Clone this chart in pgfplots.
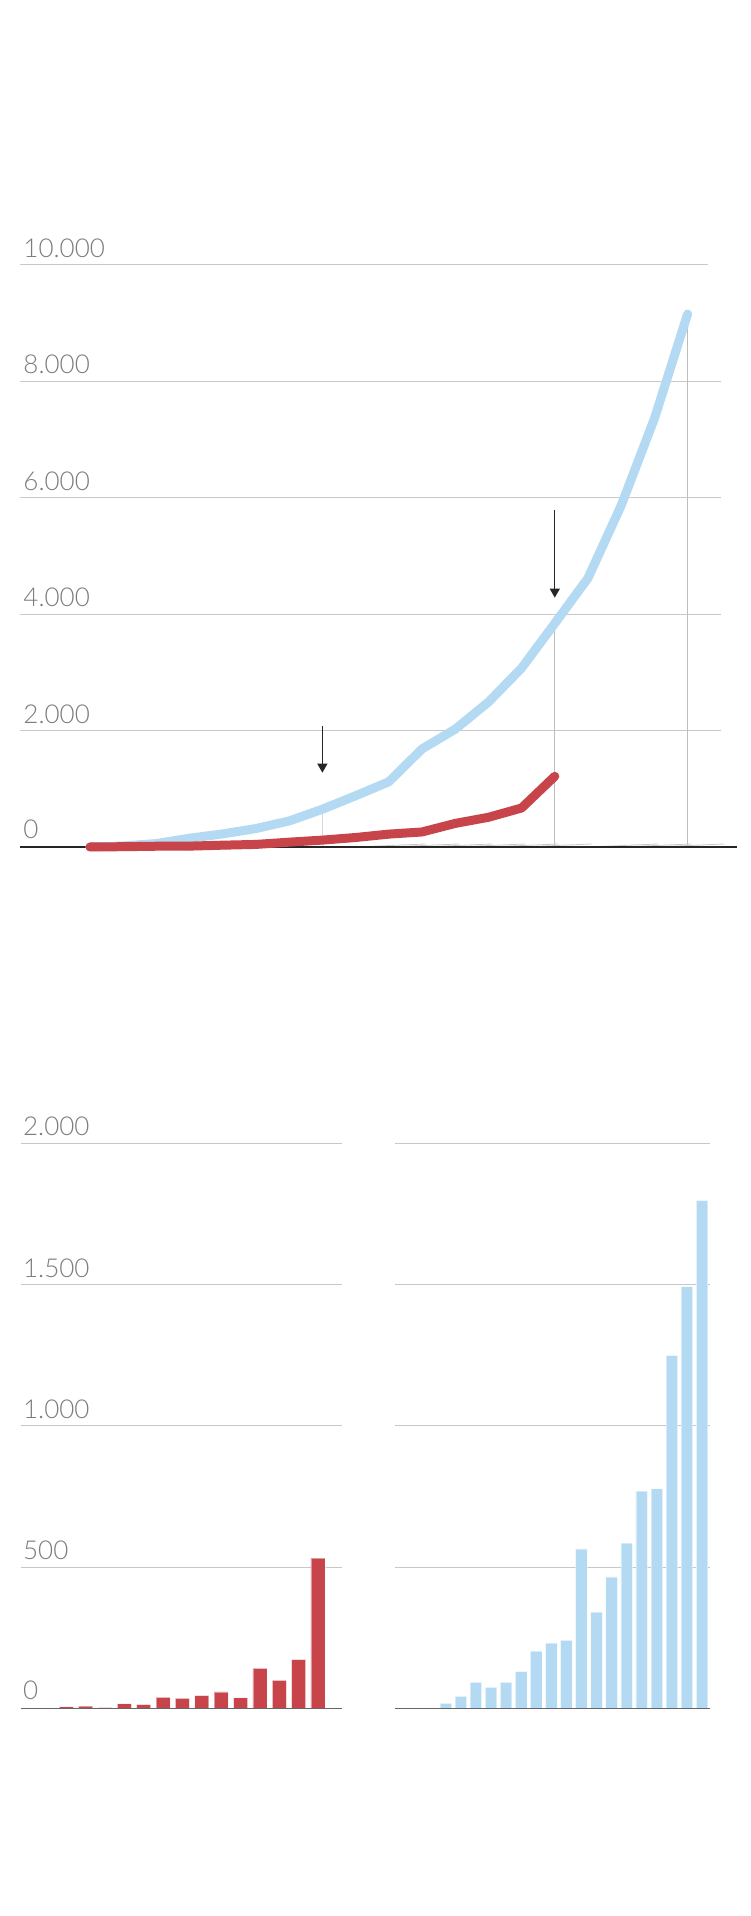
\documentclass[border=0pt]{standalone}
\usepackage{fontspec}
\IfFontExistsTF{Lato Light}{\setmainfont{Lato Light}}{\setmainfont{Lato}}
\usepackage{pgfplots}
\pgfplotsset{compat=1.18}
\usetikzlibrary{arrows.meta}
\definecolor{bl}{HTML}{B3D9F3}
\definecolor{rd}{HTML}{C8444B}
\definecolor{lab}{HTML}{7C7C7C}
\definecolor{grd}{HTML}{C8C8C8}
\definecolor{drop}{HTML}{BDBDBD}
\tikzset{lbl/.style={anchor=base west, inner sep=0pt, text=lab, font=\fontsize{26}{26}\selectfont}}
\begin{document}
\begin{tikzpicture}[x=1pt,y=1pt]
\fill[white] (0,0) rectangle (750,1916);

% ---------- top chart: cumulative lines ----------
\begin{axis}[at={(20pt,1069pt)}, anchor=south west, scale only axis,
  width=717pt, height=582pt, xmin=-2.108, xmax=19.488, ymin=0, ymax=10000,
  hide axis, clip=false]
  \draw[grd, line width=1pt] (axis cs:-2.108,10000) -- (axis cs:18.61,10000);
  \draw[grd, line width=1pt] (axis cs:-2.108,8000) -- (axis cs:19.0,8000);
  \draw[grd, line width=1pt] (axis cs:-2.108,6000) -- (axis cs:19.0,6000);
  \draw[grd, line width=1pt] (axis cs:-2.108,4000) -- (axis cs:19.0,4000);
  \draw[grd, line width=1pt] (axis cs:-2.108,2000) -- (axis cs:19.0,2000);
  \node[lbl] at ([yshift=7.5pt]axis cs:-2.009,10000) {10.000};
  \node[lbl] at ([yshift=7.5pt]axis cs:-2.009,8000) {8.000};
  \node[lbl] at ([yshift=7.5pt]axis cs:-2.009,6000) {6.000};
  \node[lbl] at ([yshift=7.5pt]axis cs:-2.009,4000) {4.000};
  \node[lbl] at ([yshift=7.5pt]axis cs:-2.009,2000) {2.000};
  \node[lbl] at ([yshift=8.5pt]axis cs:-2.009,0) {0};
  % drop lines
  \draw[grd!70, line width=1pt] (axis cs:7,0) -- (axis cs:7,649);
  \draw[drop, line width=1pt] (axis cs:14,0) -- (axis cs:14,3843);
  \draw[drop, line width=1pt] (axis cs:18,0) -- (axis cs:18,9157);
  % small ticks
  \draw[grd, line width=0.8pt] (axis cs:1,0) -- ++(0,-3pt);
  \draw[grd, line width=0.8pt] (axis cs:8,0) -- ++(0,3pt);
  \draw[grd, line width=0.8pt] (axis cs:9,0) -- ++(0,3pt);
  \draw[grd, line width=0.8pt] (axis cs:10,0) -- ++(0,3pt);
  \draw[grd, line width=0.8pt] (axis cs:11,0) -- ++(0,3pt);
  \draw[grd, line width=0.8pt] (axis cs:12,0) -- ++(0,3pt);
  \draw[grd, line width=0.8pt] (axis cs:13,0) -- ++(0,3pt);
  \draw[grd, line width=0.8pt] (axis cs:15,0) -- ++(0,3pt);
  \draw[grd, line width=0.8pt] (axis cs:16,0) -- ++(0,3pt);
  \draw[grd, line width=0.8pt] (axis cs:17,0) -- ++(0,3pt);
  % baseline
  \draw[black!85, line width=1.3pt] (axis cs:-2.108,0) -- (axis cs:19.488,0);
  % blue cumulative
  \addplot[bl, line width=9pt, line cap=round, line join=round] coordinates {
    (0,0) (1,17) (2,59) (3,151) (4,225) (5,317) (6,447) (7,649) (8,880)
    (9,1120) (10,1684) (11,2024) (12,2489) (13,3074) (14,3843) (15,4620)
    (16,5868) (17,7360) (18,9157)};
  % red cumulative
  \addplot[rd, line width=9pt, line cap=round, line join=round] coordinates {
    (0,0) (1,5) (2,13) (3,15) (4,31) (5,44) (6,83) (7,118) (8,163)
    (9,221) (10,258) (11,405) (12,510) (13,670) (14,1215)};
  % arrows
  \draw[black!85, line width=1.2pt, -{Triangle[width=10pt,length=9pt]}] (axis cs:7,2079) -- (axis cs:7,1277);
  \draw[black!85, line width=1.2pt, -{Triangle[width=10pt,length=9pt]}] (axis cs:14,5790) -- (axis cs:14,4284);
\end{axis}

% ---------- bottom left: red daily bars ----------
\begin{axis}[at={(20.7pt,207.7pt)}, anchor=south west, scale only axis,
  width=321pt, height=565pt, xmin=-1.355, xmax=15.225, ymin=0, ymax=2000,
  hide axis, clip=false]
  \draw[grd, line width=1pt] (axis cs:-1.355,2000) -- (axis cs:15.225,2000);
  \draw[grd, line width=1pt] (axis cs:-1.355,1500) -- (axis cs:15.225,1500);
  \draw[grd, line width=1pt] (axis cs:-1.355,1000) -- (axis cs:15.225,1000);
  \draw[grd, line width=1pt] (axis cs:-1.355,500) -- (axis cs:15.225,500);
  \node[lbl] at ([yshift=7.5pt]axis cs:-1.24,2000) {2.000};
  \node[lbl] at ([yshift=7.5pt]axis cs:-1.24,1500) {1.500};
  \node[lbl] at ([yshift=7.5pt]axis cs:-1.24,1000) {1.000};
  \node[lbl] at ([yshift=7.5pt]axis cs:-1.24,500) {500};
  \node[lbl] at ([yshift=8.5pt]axis cs:-1.24,0) {0};
  \addplot[ybar, bar width=14pt, fill=rd, draw=white, draw opacity=0.45, line width=0.8pt] coordinates {
    (1,5) (2,8) (3,2) (4,16) (5,13) (6,39) (7,35) (8,45) (9,58) (10,37)
    (11,141) (12,99) (13,172) (14,532)};
  \draw[black!60, line width=1.5pt] (axis cs:-1.355,0) -- (axis cs:15.225,0);
\end{axis}

% ---------- bottom right: blue daily bars ----------
\begin{axis}[at={(395pt,207.7pt)}, anchor=south west, scale only axis,
  width=315pt, height=565pt, xmin=-2.37, xmax=18.53, ymin=0, ymax=2000,
  hide axis, clip=false]
  \draw[grd, line width=1pt] (axis cs:-2.37,2000) -- (axis cs:18.53,2000);
  \draw[grd, line width=1pt] (axis cs:-2.37,1500) -- (axis cs:18.53,1500);
  \draw[grd, line width=1pt] (axis cs:-2.37,1000) -- (axis cs:18.53,1000);
  \draw[grd, line width=1pt] (axis cs:-2.37,500) -- (axis cs:18.53,500);
  \addplot[ybar, bar width=11.5pt, fill=bl, draw=white, draw opacity=0.45, line width=0.8pt] coordinates {
    (1,17) (2,42) (3,92) (4,74) (5,92) (6,130) (7,202) (8,231) (9,240)
    (10,564) (11,340) (12,465) (13,585) (14,769) (15,777) (16,1248)
    (17,1492) (18,1797)};
  \draw[black!60, line width=1.5pt] (axis cs:-2.37,0) -- (axis cs:18.53,0);
\end{axis}
\end{tikzpicture}
\end{document}
